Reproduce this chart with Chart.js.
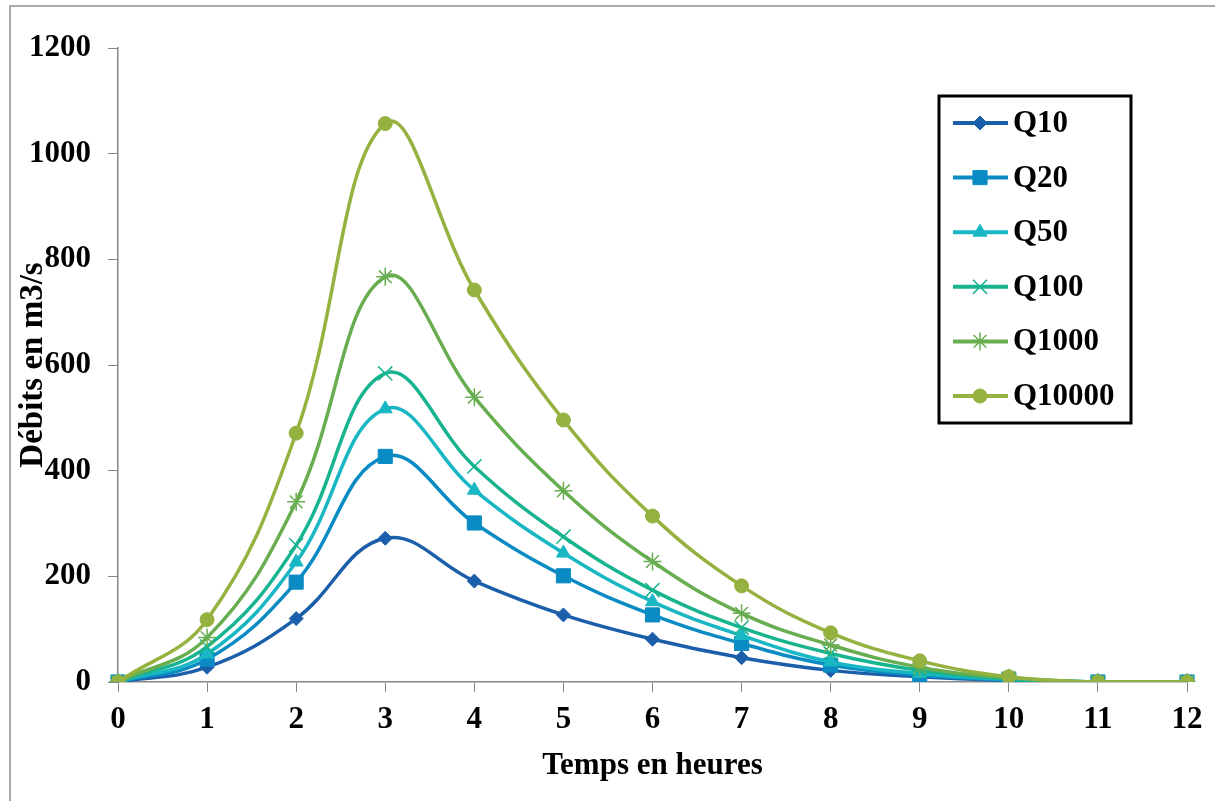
<!DOCTYPE html>
<html lang="fr">
<head>
<meta charset="utf-8">
<title>Hydrogrammes de crue</title>
<script src="https://cdn.jsdelivr.net/npm/chart.js@4/dist/chart.umd.min.js"></script>
<style>
  html, body { margin: 0; padding: 0; background: #ffffff; }
  #wrap { position: relative; width: 1215px; height: 801px; overflow: hidden; }
  #cadre { position: absolute; left: 9px; top: 5px; width: 1300px; height: 900px;
           border-left: 2px solid #a9a9a9; border-top: 2px solid #a9a9a9; }
  #hydro { position: absolute; left: 0; top: 0; }
</style>
</head>
<body>
<div id="wrap">
  <div id="cadre"></div>
  <canvas id="hydro" width="1215" height="801"></canvas>
</div>
<script>
// Temps (heures) et débits (m3/s) pour chaque période de retour
const heures = ['0', '1', '2', '3', '4', '5', '6', '7', '8', '9', '10', '11', '12'];
const q10    = [0, 28, 120, 272, 191, 127, 81, 46, 22, 10, 3, 0, 0];
const q20    = [0, 43, 189, 427, 301, 201, 127, 73, 32, 13, 4, 0, 0];
const q50    = [0, 53, 227, 517, 363, 244, 152, 88, 38, 16, 5, 0, 0];
const q100   = [0, 67, 259, 584, 408, 275, 174, 103, 54, 22, 6, 0, 0];
const q1000  = [0, 84, 341, 767, 539, 362, 228, 130, 70, 28, 8, 0, 0];
const q10000 = [0, 118, 471, 1057, 742, 496, 314, 182, 93, 40, 10, 0, 0];
const nomsSeries = ['Q10', 'Q20', 'Q50', 'Q100', 'Q1000', 'Q10000'];

// Axe des débits
const yMin = 0;
const yMax = 1200;
const yPas = 200;

const POLICE = '"Liberation Serif", "Times New Roman", serif';

// Style de chaque courbe (couleur, marqueur)
const styles = [
    { couleur: '#1b5faa', marqueur: 'rectRot',  rayon: 7,  bord: 1 },
    { couleur: '#0a8bc3', marqueur: 'rect',     rayon: 10, bord: 1 },
    { couleur: '#19b7c3', marqueur: 'triangle', rayon: 8,  bord: 1 },
    { couleur: '#18b38f', marqueur: 'crossRot', rayon: 10, bord: 1.5 },
    { couleur: '#68ad4f', marqueur: 'star',     rayon: 9,  bord: 1.5 },
    { couleur: '#95b13f', marqueur: 'circle',   rayon: 7,  bord: 1 }
];

// Légende encadrée dessinée à la main (trait + marqueur + libellé)
const legendeCadre = {
    id: 'legendeCadre',
    afterDraw(chart) {
        const ctx = chart.ctx;
        const x0 = 939, y0 = 96, x1 = 1131, y1 = 423;
        ctx.save();
        ctx.fillStyle = '#ffffff';
        ctx.fillRect(x0, y0, x1 - x0, y1 - y0);
        ctx.lineWidth = 3;
        ctx.strokeStyle = '#000000';
        ctx.strokeRect(x0, y0, x1 - x0, y1 - y0);

        chart.data.datasets.forEach(function(ds, i) {
            const y = y0 + 27 + i * 54.6;
            const st = styles[i];
            ctx.strokeStyle = ds.borderColor;
            ctx.lineWidth = 4;
            ctx.beginPath();
            ctx.moveTo(953, y);
            ctx.lineTo(1008, y);
            ctx.stroke();

            ctx.fillStyle = ds.borderColor;
            ctx.strokeStyle = ds.borderColor;
            ctx.lineWidth = st.bord;
            if (Chart.helpers && Chart.helpers.drawPoint) {
                Chart.helpers.drawPoint(ctx, {
                    pointStyle: st.marqueur, rotation: 0,
                    radius: st.rayon, borderWidth: st.bord
                }, 980, y);
            }

            ctx.fillStyle = '#000000';
            ctx.font = 'bold 31px ' + POLICE;
            ctx.textAlign = 'left';
            ctx.textBaseline = 'middle';
            ctx.fillText(ds.label, 1013, y + 1);
        });
        ctx.restore();
    }
};

document.addEventListener('DOMContentLoaded', function() {
    const series = [q10, q20, q50, q100, q1000, q10000];

    const datasets = series.map(function(valeurs, i) {
        const st = styles[i];
        return {
            label: nomsSeries[i],
            data: valeurs,
            borderColor: st.couleur,
            backgroundColor: st.couleur,
            borderWidth: 3.5,
            tension: 0.4,
            pointStyle: st.marqueur,
            pointRadius: st.rayon,
            pointBorderWidth: st.bord,
            pointBackgroundColor: st.couleur,
            pointBorderColor: st.couleur,
            order: series.length - i, // Q10000 au premier plan
            fill: false
        };
    });

    const axeGris = '#868686';

    const config = {
        type: 'line',
        data: { labels: heures, datasets: datasets },
        options: {
            responsive: false,
            animation: false,
            layout: { padding: { top: 48, right: 28, left: 0, bottom: 0 } },
            plugins: {
                legend: { display: false },
                tooltip: { enabled: false }
            },
            scales: {
                x: {
                    grid: { drawOnChartArea: false, drawTicks: true, tickLength: 10, color: axeGris },
                    border: { color: axeGris, width: 1.5 },
                    ticks: {
                        color: '#000000',
                        padding: 9,
                        maxRotation: 0,
                        autoSkip: false,
                        font: { family: POLICE, size: 31, weight: 'bold' }
                    },
                    title: {
                        display: true,
                        text: 'Temps en heures',
                        color: '#000000',
                        padding: { top: 0, bottom: 16 },
                        font: { family: POLICE, size: 31, weight: 'bold' }
                    },
                    afterFit(scale) { scale.height = 119; }
                },
                y: {
                    min: yMin,
                    max: yMax,
                    grid: { drawOnChartArea: false, drawTicks: true, tickLength: 10, color: axeGris },
                    border: { color: axeGris, width: 1.5 },
                    ticks: {
                        stepSize: yPas,
                        color: '#000000',
                        padding: 17,
                        font: { family: POLICE, size: 31, weight: 'bold' },
                        callback: function(valeur) { return String(valeur); }
                    },
                    title: {
                        display: true,
                        text: 'Débits en m3/s',
                        color: '#000000',
                        padding: { top: 14, bottom: 0 },
                        font: { family: POLICE, size: 33, weight: 'bold' }
                    },
                    afterFit(scale) { scale.width = 118; }
                }
            }
        },
        plugins: [legendeCadre]
    };

    const ctx = document.getElementById('hydro');
    if (ctx) {
        new Chart(ctx.getContext('2d'), config);
    }
});
</script>
</body>
</html>
